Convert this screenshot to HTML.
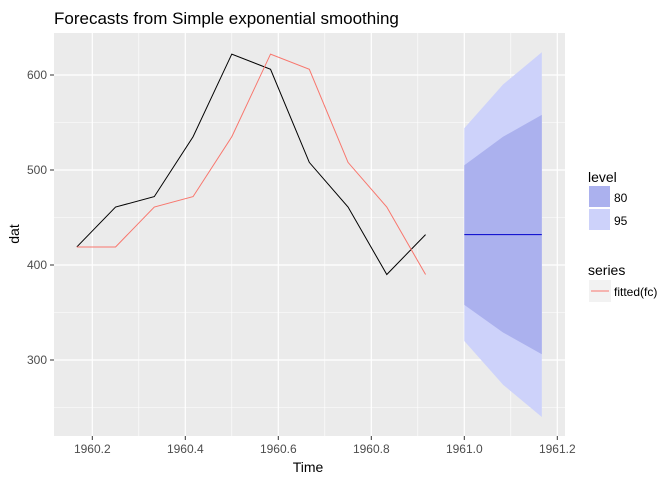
<!DOCTYPE html>
<html><head><meta charset="utf-8"><style>
body{margin:0;background:#fff}
text{font-family:"Liberation Sans",Arial,sans-serif}
</style></head><body>
<svg id="chart" width="672" height="480" xmlns="http://www.w3.org/2000/svg">
<text x="54" y="24" font-size="17" fill="#000">Forecasts from Simple exponential smoothing</text>
<rect x="54" y="33" width="511" height="403" fill="#ebebeb"/>
<g id="grid"></g>
<g id="bands"></g>
<g id="lines"></g>
<g id="axes"></g>
<text x="308" y="472" font-size="14" text-anchor="middle">Time</text>
<text transform="translate(19,234) rotate(-90)" font-size="14" text-anchor="middle">dat</text>
<g>
<text x="588" y="182" font-size="14">level</text>
<rect x="589" y="186" width="21" height="21" fill="#f2f2f2"/><rect x="589" y="186" width="21" height="21" fill="#abb1ee"/>
<text x="614" y="202" font-size="12">80</text>
<rect x="589" y="209" width="21" height="21" fill="#cdd2fa"/>
<text x="614" y="225" font-size="12">95</text>
</g>
<g>
<text x="588" y="275" font-size="14">series</text>
<rect x="589" y="280" width="22" height="22" fill="#f2f2f2"/>
<line x1="591" y1="291" x2="609" y2="291" stroke="#f8766d" stroke-width="1"/>
<text x="614" y="296" font-size="12">fitted(fc)</text>
</g>
</svg>
<script>
const times=[1960.1667,1960.25,1960.3333,1960.4167,1960.5,1960.5833,1960.6667,1960.75,1960.8333,1960.9167];
const actual=[419,461,472,535,622,606,508,461,390,432];
const fitted=[419,419,461,472,535,622,606,508,461,390];
const fcTimes=[1961.0,1961.0833,1961.1667];
const fcMean=[432,432,432];
const lo80=[358,329,306];
const hi80=[505,535,558];
const lo95=[320,274,240];
const hi95=[544,590,624];
const xTicks=[1960.2,1960.4,1960.6,1960.8,1961.0,1961.2];
const xTickLabels=["1960.2","1960.4","1960.6","1960.8","1961.0","1961.2"];
const yTicks=[300,400,500,600];
const yTickLabels=["300","400","500","600"];
const X=v=>92.3+(v-1960.2)*465;
const Y=v=>265-(v-400)*0.95;
const NS="http://www.w3.org/2000/svg";
function mk(parent,tag,attrs){const e=document.createElementNS(NS,tag);for(const k in attrs)e.setAttribute(k,attrs[k]);parent.appendChild(e);return e;}
const grid=document.getElementById('grid');
[250,350,450,550].forEach(v=>{const l=mk(grid,'line',{x1:54,x2:565,y1:Y(v),y2:Y(v),stroke:'#fff','stroke-width':0.6});

});
[1960.3,1960.5,1960.7,1960.9,1961.1].forEach(v=>{const l=mk(grid,'line',{x1:X(v),x2:X(v),y1:33,y2:436,stroke:'#fff','stroke-width':0.6});

});
yTicks.forEach(v=>{const l=mk(grid,'line',{x1:54,x2:565,y1:Y(v),y2:Y(v),stroke:'#fff','stroke-width':1.2});

});
xTicks.forEach(v=>{const l=mk(grid,'line',{x1:X(v),x2:X(v),y1:33,y2:436,stroke:'#fff','stroke-width':1.2});

});
const bands=document.getElementById('bands');
function band(lo,hi,col,name){let p=fcTimes.map((t,i)=>X(t)+','+Y(hi[i]));for(let i=fcTimes.length-1;i>=0;i--)p.push(X(fcTimes[i])+','+Y(lo[i]));
const e=mk(bands,'polygon',{points:p.join(' '),fill:col});

}
band(lo95,hi95,'#cdd2fa','band-95');
band(lo80,hi80,'#abb1ee','band-80');
const lines=document.getElementById('lines');
function line(ts,vs,col,name){const e=mk(lines,'polyline',{points:ts.map((t,i)=>X(t)+','+Y(vs[i])).join(' '),fill:'none',stroke:col,'stroke-width':1});

}
line(times,actual,'#000','actual-series-line');
line(times,fitted,'#f8766d','fitted-series-line');
line(fcTimes,fcMean,'#0000cc','forecast-mean-line');
const axes=document.getElementById('axes');
xTicks.forEach((v,i)=>{const t=mk(axes,'line',{x1:X(v),x2:X(v),y1:436,y2:440,stroke:'#333'});


const tx=mk(axes,'text',{x:X(v),y:453,'font-size':12,fill:'#4d4d4d','text-anchor':'middle'});tx.textContent=xTickLabels[i];

});
yTicks.forEach((v,i)=>{const t=mk(axes,'line',{x1:50,x2:54,y1:Y(v),y2:Y(v),stroke:'#333'});


const tx=mk(axes,'text',{x:47,y:Y(v)+4,'font-size':12,fill:'#4d4d4d','text-anchor':'end'});tx.textContent=yTickLabels[i];

});
</script>
</body></html>
